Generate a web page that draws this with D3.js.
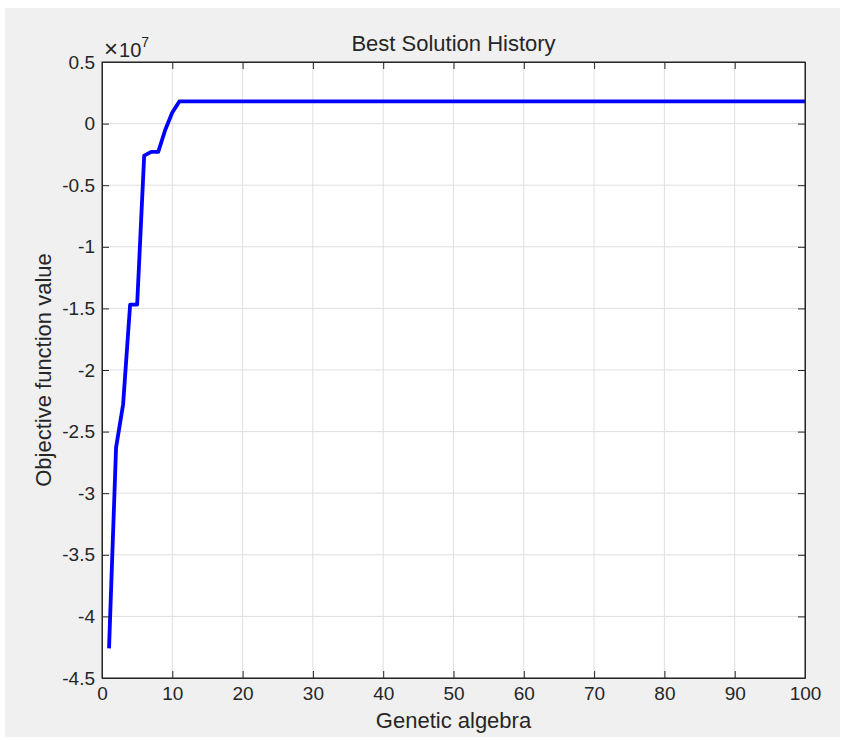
<!DOCTYPE html>
<html>
<head>
<meta charset="utf-8">
<script src="https://cdn.jsdelivr.net/npm/d3@7"></script>
<style>
  body { margin: 0; background: #fff; }
  text { font-family: "Liberation Sans", Arial, Helvetica, sans-serif; fill: #262626; }
</style>
</head>
<body>
<div class="container"></div>
<script>
const width = 845;
const height = 740;
const margin = { top: 62, right: 40, bottom: 62, left: 102 };

// dados (valores em unidades de 1e7)
const generations = [
  1, 2, 3, 4, 5, 6, 7, 8, 9, 10,
  11, 12, 13, 14, 15, 16, 17, 18, 19, 20,
  21, 22, 23, 24, 25, 26, 27, 28, 29, 30,
  31, 32, 33, 34, 35, 36, 37, 38, 39, 40,
  41, 42, 43, 44, 45, 46, 47, 48, 49, 50,
  51, 52, 53, 54, 55, 56, 57, 58, 59, 60,
  61, 62, 63, 64, 65, 66, 67, 68, 69, 70,
  71, 72, 73, 74, 75, 76, 77, 78, 79, 80,
  81, 82, 83, 84, 85, 86, 87, 88, 89, 90,
  91, 92, 93, 94, 95, 96, 97, 98, 99, 100
];
const bestValues = [
  -4.26, -2.63, -2.28, -1.47, -1.47, -0.26, -0.23, -0.23, -0.05, 0.09,
  0.18, 0.18, 0.18, 0.18, 0.18, 0.18, 0.18, 0.18, 0.18, 0.18,
  0.18, 0.18, 0.18, 0.18, 0.18, 0.18, 0.18, 0.18, 0.18, 0.18,
  0.18, 0.18, 0.18, 0.18, 0.18, 0.18, 0.18, 0.18, 0.18, 0.18,
  0.18, 0.18, 0.18, 0.18, 0.18, 0.18, 0.18, 0.18, 0.18, 0.18,
  0.18, 0.18, 0.18, 0.18, 0.18, 0.18, 0.18, 0.18, 0.18, 0.18,
  0.18, 0.18, 0.18, 0.18, 0.18, 0.18, 0.18, 0.18, 0.18, 0.18,
  0.18, 0.18, 0.18, 0.18, 0.18, 0.18, 0.18, 0.18, 0.18, 0.18,
  0.18, 0.18, 0.18, 0.18, 0.18, 0.18, 0.18, 0.18, 0.18, 0.18,
  0.18, 0.18, 0.18, 0.18, 0.18, 0.18, 0.18, 0.18, 0.18, 0.18
];
const xTicks = [0, 10, 20, 30, 40, 50, 60, 70, 80, 90, 100];
const yTicks = [0.5, 0, -0.5, -1, -1.5, -2, -2.5, -3, -3.5, -4, -4.5];

const plotW = 805 - margin.left;
const plotH = 678 - margin.top;

const svg = d3.select('.container')
  .append('svg')
  .attr('width', width)
  .attr('height', height);

// fundo da figura (cinza MATLAB)
svg.append('rect')
  .attr('x', 5)
  .attr('y', 8)
  .attr('width', 835)
  .attr('height', 729)
  .attr('fill', '#f0f0f0');

const x = d3.scaleLinear().domain([0, 100]).range([0, plotW]);
const y = d3.scaleLinear().domain([-4.5, 0.5]).range([plotH, 0]);

const g = svg.append('g')
  .attr('transform', `translate(${margin.left},${margin.top})`);

g.append('rect')
  .attr('width', plotW)
  .attr('height', plotH)
  .attr('fill', '#fff');

// grade
g.append('g')
  .selectAll('line')
  .data(xTicks)
  .join('line')
  .attr('x1', d => x(d)).attr('x2', d => x(d))
  .attr('y1', 0).attr('y2', plotH)
  .attr('stroke', '#dfdfdf')
  .attr('stroke-width', 1);

g.append('g')
  .selectAll('line')
  .data(yTicks)
  .join('line')
  .attr('x1', 0).attr('x2', plotW)
  .attr('y1', d => y(d)).attr('y2', d => y(d))
  .attr('stroke', '#dfdfdf')
  .attr('stroke-width', 1);

// linha
const line = d3.line()
  .x((d, i) => x(generations[i]))
  .y(d => y(d));

g.append('path')
  .datum(bestValues)
  .attr('d', line)
  .attr('fill', 'none')
  .attr('stroke', '#0000ff')
  .attr('stroke-width', 3.8)
  .attr('stroke-linejoin', 'round');

const fmt = d => String(d);
const tickLen = 7;

// eixos
const xAxis = g.append('g')
  .attr('transform', `translate(0,${plotH})`)
  .call(d3.axisBottom(x).tickValues(xTicks).tickFormat(fmt).tickSizeInner(-tickLen).tickSizeOuter(0).tickPadding(9));
const xTop = g.append('g')
  .call(d3.axisTop(x).tickValues(xTicks).tickFormat('').tickSizeInner(-tickLen).tickSizeOuter(0));
const yAxis = g.append('g')
  .call(d3.axisLeft(y).tickValues(yTicks).tickFormat(fmt).tickSizeInner(-tickLen).tickSizeOuter(0).tickPadding(7));
const yRight = g.append('g')
  .attr('transform', `translate(${plotW},0)`)
  .call(d3.axisRight(y).tickValues(yTicks).tickFormat('').tickSizeInner(-tickLen).tickSizeOuter(0));

[xAxis, xTop, yAxis, yRight].forEach(a => {
  a.select('.domain').attr('stroke', '#262626').attr('stroke-width', 1);
  a.selectAll('.tick line').attr('stroke', '#262626');
  a.selectAll('.tick text').attr('font-size', 19).attr('fill', '#262626')
    .style('font-family', '"Liberation Sans", Arial, sans-serif');
});

// caixa
g.append('rect')
  .attr('width', plotW)
  .attr('height', plotH)
  .attr('fill', 'none')
  .attr('stroke', '#262626')
  .attr('stroke-width', 1);

// titulo
svg.append('text')
  .attr('x', margin.left + plotW / 2)
  .attr('y', 51)
  .attr('text-anchor', 'middle')
  .attr('font-size', 22)
  .text('Best Solution History');

// expoente
const expo = svg.append('text')
  .attr('x', 104)
  .attr('y', 57)
  .attr('font-size', 20);
expo.append('tspan').attr('font-size', 24).text('\u00d7');
expo.append('tspan').attr('dx', 1).text('10');
expo.append('tspan').attr('dy', -10).attr('font-size', 14).text('7');

// rotulos
svg.append('text')
  .attr('x', margin.left + plotW / 2)
  .attr('y', 728)
  .attr('text-anchor', 'middle')
  .attr('font-size', 22)
  .text('Genetic algebra');

svg.append('text')
  .attr('transform', `translate(51,${margin.top + plotH / 2}) rotate(-90)`)
  .attr('text-anchor', 'middle')
  .attr('font-size', 22)
  .text('Objective function value');
</script>
</body>
</html>
